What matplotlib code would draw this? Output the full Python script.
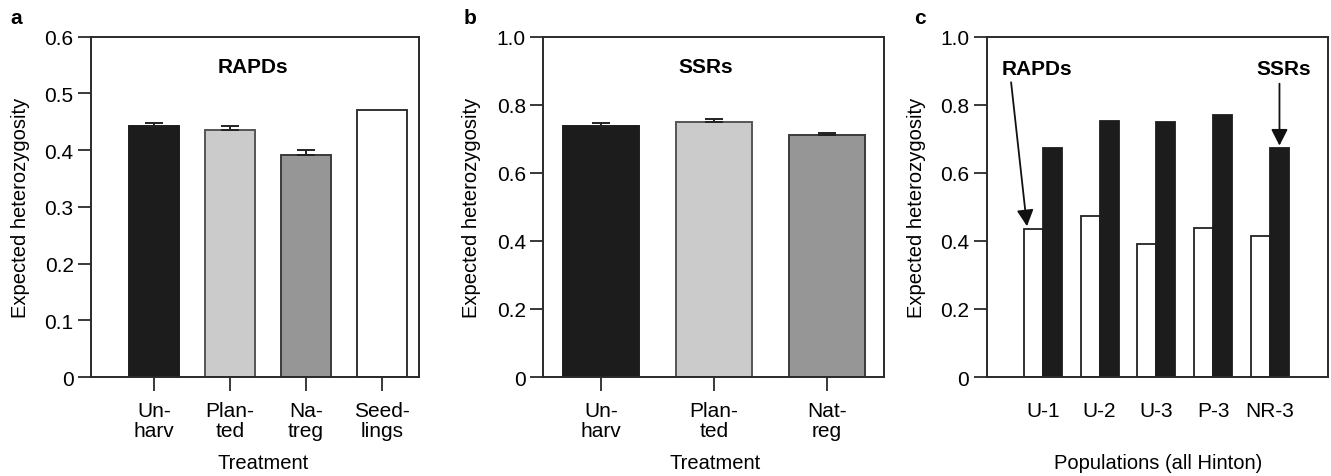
import matplotlib
matplotlib.use("Agg")
import matplotlib.pyplot as plt
import numpy as np

plt.rcParams['font.family'] = ['Liberation Sans', 'DejaVu Sans']

# Panel a (RAPDs)
a_labels = ["Un-\nharv", "Plan-\nted", "Na-\ntreg", "Seed-\nlings"]
a_values = [0.442, 0.435, 0.392, 0.471]
a_err = [0.006, 0.008, 0.008, 0.0]
a_colors = ["#1c1c1c", "#cbcbcb", "#969696", "#ffffff"]

# Panel b (SSRs)
b_labels = ["Un-\nharv", "Plan-\nted", "Nat-\nreg"]
b_values = [0.739, 0.748, 0.711]
b_err = [0.006, 0.010, 0.006]
b_colors = ["#1c1c1c", "#cbcbcb", "#969696"]

# Panel c (populations)
c_labels = ["U-1", "U-2", "U-3", "P-3", "NR-3"]
c_rapds = [0.435, 0.473, 0.391, 0.437, 0.414]
c_ssrs = [0.674, 0.753, 0.748, 0.770, 0.674]

W, H = 1331, 477
fig = plt.figure(figsize=(W / 100, H / 100), dpi=100)

def frac(l, r, t=37.7, b=378):
    return [l / W, 1 - b / H, (r - l) / W, (b - t) / H]

spine_c = "#2a2a2a"
fs = 15
lab_fs = 14.5
bold_fs = 15

def style(ax):
    for s in ax.spines.values():
        s.set_color(spine_c)
        s.set_linewidth(1.4)
    ax.tick_params(axis='y', direction='out', length=9.5, width=1.3, color=spine_c,
                   labelsize=fs, pad=3)
    ax.tick_params(axis='x', direction='out', length=10, width=1.3, color=spine_c,
                   labelsize=fs, pad=7)

def yfmt(v):
    return "0" if v == 0 else f"{v:.1f}"

def labels(ax, xlabel, ylx, xlx, xly):
    ax.set_ylabel("Expected heterozygosity", fontsize=lab_fs, va='center')
    ax.yaxis.set_label_coords(ylx, 0.5)
    ax.set_xlabel(xlabel, fontsize=lab_fs, va='center')
    ax.xaxis.set_label_coords(xlx, xly)

# ---- a ----
ax1 = fig.add_axes(frac(91, 419))
xa = np.arange(len(a_values))
ax1.bar(xa, a_values, width=0.66, color=a_colors,
        edgecolor=["#1c1c1c", "#555555", "#3a3a3a", "#333333"], linewidth=1.4, zorder=2)
for xi, v, e in zip(xa, a_values, a_err):
    if e > 0:
        ax1.errorbar(xi, v, yerr=[[0], [e]], fmt='none', ecolor="#222222", elinewidth=1.4,
                     capsize=6.5, capthick=1.4, zorder=3)
ax1.set_xlim(-0.83, 3.49)
ax1.set_ylim(0, 0.6)
yta = np.arange(0, 0.61, 0.1)
ax1.set_yticks(yta)
ax1.set_yticklabels([yfmt(round(v, 1)) for v in yta])
ax1.set_xticks(xa)
ax1.set_xticklabels(a_labels, linespacing=1.1)
style(ax1)
labels(ax1, "Treatment", -0.214, 0.524, -0.25)
ax1.text(1.3, 0.547, "RAPDs", ha='center', va='center', fontsize=bold_fs, fontweight='bold')
fig.text(16 / W, 1 - 19 / H, "a", ha='center', va='center', fontsize=15, fontweight='bold')

# ---- b ----
ax2 = fig.add_axes(frac(543.3, 884.3))
xb = np.arange(len(b_values))
ax2.bar(xb, b_values, width=0.67, color=b_colors,
        edgecolor=["#1c1c1c", "#555555", "#3a3a3a"], linewidth=1.4, zorder=2)
for xi, v, e in zip(xb, b_values, b_err):
    ax2.errorbar(xi, v, yerr=[[0], [e]], fmt='none', ecolor="#222222", elinewidth=1.4,
                 capsize=6.5, capthick=1.4, zorder=3)
ax2.set_xlim(-0.51, 2.51)
ax2.set_ylim(0, 1.0)
yt = np.arange(0, 1.01, 0.2)
ax2.set_yticks(yt)
ax2.set_yticklabels([yfmt(round(v, 1)) for v in yt])
ax2.set_xticks(xb)
ax2.set_xticklabels(b_labels, linespacing=1.1)
style(ax2)
labels(ax2, "Treatment", -0.21, 0.503, -0.25)
ax2.text(0.93, 0.912, "SSRs", ha='center', va='center', fontsize=bold_fs, fontweight='bold')
fig.text(470 / W, 1 - 19 / H, "b", ha='center', va='center', fontsize=15, fontweight='bold')

# ---- c ----
ax3 = fig.add_axes(frac(986.7, 1327.7))
xc = np.arange(len(c_labels))
bw = 0.335
ax3.bar(xc - bw / 2, c_rapds, width=bw, color="#ffffff", edgecolor="#222222",
        linewidth=1.3, zorder=2)
ax3.bar(xc + bw / 2, c_ssrs, width=bw, color="#1c1c1c", edgecolor="#1c1c1c",
        linewidth=1.3, zorder=2)
ax3.set_xlim(-0.99, 5.02)
ax3.set_ylim(0, 1.0)
ax3.set_yticks(yt)
ax3.set_yticklabels([yfmt(round(v, 1)) for v in yt])
ax3.set_xticks(xc)
ax3.set_xticklabels(c_labels)
style(ax3)
ax3.tick_params(axis='x', length=0, pad=17)
labels(ax3, "Populations (all Hinton)", -0.205, 0.502, -0.25)
ax3.text(-0.11, 0.906, "RAPDs", ha='center', va='center', fontsize=bold_fs, fontweight='bold')
ax3.text(4.24, 0.906, "SSRs", ha='center', va='center', fontsize=bold_fs, fontweight='bold')
astyle = '-|>,head_length=0.55,head_width=0.28'
ax3.annotate("", xy=(-0.28, c_rapds[0] + 0.008), xytext=(-0.56, 0.866),
             arrowprops=dict(arrowstyle=astyle, color='#111111', lw=1.3, fc='#111111',
                             mutation_scale=18, shrinkA=0, shrinkB=0))
ax3.annotate("", xy=(4.17, c_ssrs[4] + 0.006), xytext=(4.17, 0.862),
             arrowprops=dict(arrowstyle=astyle, color='#111111', lw=1.3, fc='#111111',
                             mutation_scale=18, shrinkA=0, shrinkB=0))
fig.text(920 / W, 1 - 19 / H, "c", ha='center', va='center', fontsize=15, fontweight='bold')

fig.savefig("out.png", dpi=100)
